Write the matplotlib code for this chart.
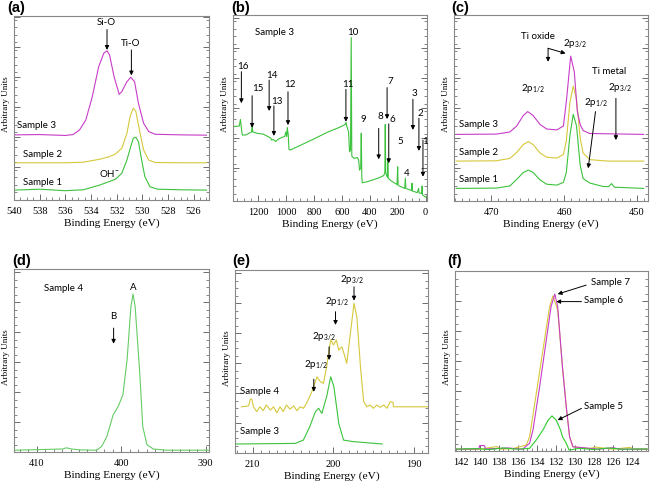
import matplotlib
matplotlib.use('Agg')
import matplotlib.pyplot as plt
from matplotlib.ticker import MultipleLocator

plt.rcParams['font.family'] = 'Liberation Serif'
plt.rcParams['mathtext.fontset'] = 'custom'
plt.rcParams['mathtext.rm'] = 'Lato'
plt.rcParams['mathtext.it'] = 'Lato:italic'

# ---- (a) O 1s ----
a_be1 = [540, 538, 536, 534.6, 533.3, 532.6, 532.1, 531.6, 531.2, 530.9, 530.7, 530.5, 530.3, 530.05, 529.8, 529.4, 528.8, 527, 525]
a_s1 = [0.33, 0.36, 0.31, 0.34, 0.50, 0.61, 0.69, 0.89, 1.33, 1.78, 2.06, 2.09, 1.94, 1.33, 0.78, 0.44, 0.36, 0.34, 0.33]
a_be2 = [540, 538, 536, 534.6, 533.3, 532.6, 532.1, 531.6, 531.2, 530.95, 530.7, 530.5, 530.2, 529.9, 529.5, 529.0, 527, 525]
a_s2 = [1.24, 1.24, 1.24, 1.26, 1.36, 1.44, 1.53, 1.72, 2.22, 2.78, 3.06, 2.95, 2.28, 1.67, 1.33, 1.25, 1.24, 1.24]
a_be3 = [540, 538, 536, 535.4, 534.9, 534.4, 533.9, 533.4, 533.0, 532.75, 532.55, 532.2, 531.8, 531.6, 531.2, 530.9, 530.6, 530.3, 529.9, 529.5, 529.0, 527, 525]
a_s3 = [2.17, 2.18, 2.15, 2.18, 2.33, 2.67, 3.44, 4.44, 4.89, 4.97, 4.83, 4.11, 3.52, 3.61, 3.94, 4.09, 3.94, 3.22, 2.56, 2.28, 2.19, 2.17, 2.16]

# ---- (b) survey, sample 3 ----
b_be = [1380, 1335, 1327, 1318, 1313, 1290, 1260, 1247, 1243, 1238, 1200, 1164, 1130, 1110, 1104, 1090,
        1075, 1060, 1030, 1010, 1001, 995, 991, 984, 979, 970, 900, 800, 700, 620, 576, 570, 565, 552,
        545, 538, 533, 529, 528, 510, 490, 480, 473, 465, 461, 457, 454, 420, 380, 330, 300, 292, 289,
        286, 280, 273, 271, 268, 240, 205, 200, 197, 150, 145, 142, 100, 97, 94, 60, 50, 47, 28, 25, 22, 5, -5]
b_int = [2.48, 2.50, 2.72, 2.35, 2.20, 2.20, 2.27, 2.30, 2.53, 2.30, 2.25, 2.23, 2.15, 2.10, 2.03, 2.05,
         1.98, 2.05, 2.12, 2.15, 2.30, 2.15, 2.45, 2.20, 1.72, 1.70, 1.85, 2.07, 2.30, 2.45, 2.55, 2.62, 2.50, 2.31,
         1.64, 1.70, 5.45, 1.60, 1.48, 1.42, 1.45, 1.37, 1.03, 1.10, 2.26, 0.80, 0.61, 0.64, 0.70, 0.78, 0.85, 0.95, 2.55,
         0.95, 0.85, 0.80, 1.40, 0.75, 0.65, 0.55, 1.14, 0.52, 0.42, 0.76, 0.42, 0.35, 0.59, 0.33, 0.28, 0.42, 0.27, 0.25, 0.50, 0.20, 0.15, 0.12]
b_labels = ['16', '15', '14', '13', '12', '11', '10', '9', '8', '7', '6', '5', '4', '3', '2', '1']
b_label_x = [1308, 1204, 1104, 1068, 972, 559, 520, 444, 324, 256, 240, 180, 132, 79, 36, 5]
b_label_y = [4.48, 3.76, 4.20, 3.33, 3.90, 3.87, 5.62, 2.73, 2.81, 3.98, 2.72, 1.98, 0.92, 3.59, 2.92, 1.98]
# arrows: x, y start, y end
b_arr_x = [1320, 1243, 1121, 1087, 986, 571, 336, 276, 264, 91, 48, 19]
b_arr_y0 = [4.31, 3.51, 4.03, 3.17, 3.64, 3.72, 2.42, 3.78, 2.57, 3.39, 2.76, 2.03]
b_arr_y1 = [3.26, 2.44, 3.00, 2.17, 2.53, 2.64, 1.39, 2.73, 1.26, 2.37, 1.67, 0.81]

# ---- (c) Ti 2p ----
c_be = [474.8, 469.3, 467.45, 466.5, 465.6, 464.9, 464.25, 463.3, 462.4, 461.0, 460.1, 459.7, 459.2, 458.75,
        458.3, 457.8, 457.4, 456.5, 454.6, 453.9, 453.5, 453.1, 449.1]
c_s1 = [0.42, 0.43, 0.50, 0.72, 0.95, 1.03, 0.95, 0.70, 0.56, 0.53, 0.62, 0.95, 2.20, 2.89,
        2.50, 1.20, 0.75, 0.60, 0.48, 0.48, 0.58, 0.46, 0.42]
c_s2 = [1.33, 1.34, 1.42, 1.62, 1.88, 1.98, 1.88, 1.60, 1.46, 1.43, 1.55, 2.00, 3.30, 3.83,
        3.40, 2.10, 1.60, 1.38, 1.34, 1.33, 1.33, 1.33, 1.33]
c_be3 = [474.8, 469.3, 467.45, 466.5, 465.6, 465.0, 464.25, 463.3, 462.4, 461.0, 460.1, 459.7, 459.1, 458.6,
         458.2, 457.8, 457.4, 456.5, 449.1]
c_s3 = [2.22, 2.23, 2.30, 2.50, 2.85, 2.98, 2.85, 2.55, 2.40, 2.37, 2.50, 3.30, 4.83, 4.30,
        3.00, 2.55, 2.35, 2.25, 2.22]

# ---- (d) N 1s, sample 4 ----
d_be = [412.6, 406.9, 406.5, 405.9, 404.9, 402.9, 402.3, 401.7, 400.95, 400.35, 399.8, 399.3, 398.85, 398.6,
        398.35, 397.8, 397.45, 396.95, 396.2, 394.6, 389.6]
d_int = [0.06, 0.10, 0.14, 0.10, 0.07, 0.06, 0.19, 0.52, 1.24, 1.52, 1.91, 3.08, 4.85, 5.27,
         4.85, 2.63, 0.85, 0.24, 0.10, 0.06, 0.06]

# ---- (e) Cl 2p ----
e_be3 = [212.0, 204.7, 203.7, 202.9, 202.2, 201.8, 201.4, 200.8, 200.3, 199.9, 199.3, 198.7, 197.5, 193.9]
e_s3 = [0.30, 0.32, 0.43, 0.88, 1.38, 1.49, 1.32, 1.88, 2.54, 2.21, 0.99, 0.43, 0.38, 0.30]
e_be4 = [211.4, 210.5, 210.3, 210.1, 209.9, 209.5, 209.1, 208.7, 208.3, 207.8, 207.4, 207.0, 206.6, 206.2,
         205.8, 205.35, 204.9, 204.5, 204.1, 203.7, 203.3, 202.65, 202.0, 201.6, 201.2, 200.8, 200.5, 200.3,
         199.95, 199.6, 199.3, 198.9, 198.6, 198.3, 197.9, 197.4, 197.05, 196.6, 196.2, 195.8, 195.4, 195.0,
         194.55, 194.15, 193.7, 193.3, 192.9, 192.55, 192.5, 188.1]
e_s4 = [1.54, 1.57, 1.79, 1.79, 1.54, 1.38, 1.54, 1.41, 1.60, 1.43, 1.54, 1.34, 1.54, 1.38,
        1.60, 1.46, 1.57, 1.41, 1.54, 1.49, 1.66, 2.04, 2.54, 2.38, 2.32, 2.88, 3.43, 3.77,
        3.60, 3.77, 3.43, 3.54, 3.27, 2.99, 3.88, 4.99, 4.54, 2.88, 1.71, 1.54, 1.60, 1.49,
        1.60, 1.52, 1.60, 1.49, 1.71, 1.69, 1.54, 1.54]

# ---- (f) P 2p ----
f_be5 = [142.6, 140.5, 139.0, 137.5, 136.0, 134.75, 134.05, 133.35, 132.8, 132.4, 131.95, 131.5, 131.3, 130.9,
         130.6, 129.5, 128.0, 126.5, 125.0, 122.4]
f_s5 = [0.06, 0.08, 0.05, 0.10, 0.06, 0.09, 0.37, 0.70, 1.03, 1.17, 1.03, 0.70, 0.48, 0.26,
        0.03, 0.09, 0.05, 0.10, 0.06, 0.07]
f_be6 = [142.6, 140.0, 138.2, 137.8, 136.5, 135.1, 134.75, 134.05, 133.35, 132.65, 132.3, 131.8, 131.3, 130.9,
         130.55, 130.2, 128.5, 127.8, 126.0, 124.2, 123.8, 122.4]
f_s6 = [0.06, 0.06, 0.15, 0.06, 0.08, 0.20, 0.48, 1.92, 3.37, 4.81, 5.17, 4.70, 2.81, 1.48,
        0.48, 0.14, 0.08, 0.13, 0.06, 0.12, 0.06, 0.06]
f_be7 = [142.6, 140.1, 140.0, 139.5, 139.4, 137.0, 135.5, 134.75, 134.4, 133.7, 133.0, 132.5, 132.1, 131.8,
         131.3, 130.9, 130.55, 130.2, 128.8, 127.5, 126.0, 125.2, 122.4]
f_s7 = [0.06, 0.07, 0.18, 0.18, 0.07, 0.10, 0.06, 0.26, 0.70, 2.14, 3.70, 4.81, 5.23, 4.81,
        2.81, 1.48, 0.48, 0.14, 0.10, 0.06, 0.11, 0.06, 0.06]

green = '#3cc23c'
yellow = '#d6c83c'
magenta = '#c83cc8'
ann_font = 'Lato'


def style(ax, xlim, ylim, xmaj, xmin, ymaj_start):
    ax.set_xlim(*xlim)
    ax.set_ylim(*ylim)
    ax.xaxis.set_major_locator(MultipleLocator(xmaj))
    ax.xaxis.set_minor_locator(MultipleLocator(xmin))
    ax.set_yticks([ymaj_start + k for k in range(7) if ymaj_start + k < ylim[1]])
    ax.yaxis.set_minor_locator(MultipleLocator(0.25))
    ax.tick_params(which='both', direction='in', top=False, right=True, labelleft=False,
                   color='#555555', labelsize=7.5, pad=5)
    ax.tick_params(which='major', length=4, width=0.6)
    ax.tick_params(which='minor', length=2, width=0.5)
    for s in ax.spines.values():
        s.set_color('#888888')
        s.set_linewidth(0.8)
    ax.set_xlabel('Binding Energy (eV)', fontsize=8.2, labelpad=1.5)
    ax.set_ylabel('Arbitrary Units', fontsize=6.5)
    ax.yaxis.set_label_coords(-0.022, 0.52)


def txt(ax, x, y, s, ha='center', size=7):
    ax.text(x, y, s, ha=ha, va='center', fontsize=size, family=ann_font)


def arrow(ax, x0, y0, x1, y1):
    ax.annotate('', xy=(x1, y1), xytext=(x0, y0),
                arrowprops=dict(arrowstyle='-|>', color='k', lw=0.7, mutation_scale=6,
                                shrinkA=0, shrinkB=0))


W, H = 650, 487
fig = plt.figure(figsize=(6.5, 4.87), dpi=100)


def box(l, t, r, b):
    return [l / W, 1 - b / H, (r - l) / W, (b - t) / H]


axa = fig.add_axes(box(14, 16, 209, 200))
axb = fig.add_axes(box(233, 15, 427, 201))
axc = fig.add_axes(box(454, 15, 648, 201))
axd = fig.add_axes(box(14, 269, 209, 452))
axe = fig.add_axes(box(235, 270, 428, 453))
axf = fig.add_axes(box(455, 271, 648, 451))

# (a)
axa.plot(a_be1, a_s1, color=green, lw=0.8)
axa.plot(a_be2, a_s2, color=yellow, lw=0.8)
axa.plot(a_be3, a_s3, color=magenta, lw=0.8)
style(axa, (540, 524.8), (0, 6.13), 2, 0.5, 1.1)
txt(axa, 539.8, 2.47, 'Sample 3', ha='left')
txt(axa, 539.3, 1.53, 'Sample 2', ha='left')
txt(axa, 539.3, 0.58, 'Sample 1', ha='left')
txt(axa, 532.6, 0.89, 'OH$^{-}$')
txt(axa, 532.8, 5.9, 'Si-O')
arrow(axa, 532.75, 5.68, 532.75, 5.0)
txt(axa, 530.9, 5.22, 'Ti-O')
arrow(axa, 530.85, 5.0, 530.85, 4.15)

# (b)
axb.plot(b_be, b_int, color=green, lw=0.8)
style(axb, (1380, -10), (0, 6.2), 200, 50, 1.1)
txt(axb, 1225, 5.63, 'Sample 3', ha='left')
for lab, x, y in zip(b_labels, b_label_x, b_label_y):
    txt(axb, x, y, lab)
for x, y0, y1 in zip(b_arr_x, b_arr_y0, b_arr_y1):
    arrow(axb, x, y0, x, y1)

# (c)
axc.plot(c_be, c_s1, color=green, lw=0.8)
axc.plot(c_be, c_s2, color=yellow, lw=0.8)
axc.plot(c_be3, c_s3, color=magenta, lw=0.8)
style(axc, (475.1, 448.5), (0, 6.2), 10, 1, 1.1)
txt(axc, 474.4, 2.55, 'Sample 3', ha='left')
txt(axc, 474.4, 1.62, 'Sample 2', ha='left')
txt(axc, 474.4, 0.73, 'Sample 1', ha='left')
txt(axc, 463.6, 5.48, 'Ti oxide')
arrow(axc, 462.2, 5.09, 462.2, 4.64)
arrow(axc, 462.2, 5.09, 459.8, 4.92)
txt(axc, 458.5, 5.26, r'2p$_{3/2}$')
txt(axc, 464.3, 3.76, r'2p$_{1/2}$')
txt(axc, 453.8, 4.31, 'Ti metal')
txt(axc, 452.4, 3.79, r'2p$_{3/2}$')
arrow(axc, 452.9, 3.42, 452.9, 2.03)
txt(axc, 455.6, 3.28, r'2p$_{1/2}$')
arrow(axc, 455.7, 2.98, 456.7, 1.09)

# (d)
axd.plot(d_be, d_int, color='#66cc66', lw=0.8)
style(axd, (412.7, 389.6), (0, 6.1), 10, 1, 1)
txt(axd, 409.2, 5.44, 'Sample 4', ha='left')
txt(axd, 398.6, 5.49, 'A')
txt(axd, 401.0, 4.52, 'B')
arrow(axd, 400.9, 4.13, 400.9, 3.61)

# (e)
axe.plot(e_be3, e_s3, color=green, lw=0.8)
axe.plot(e_be4, e_s4, color=yellow, lw=0.8)
style(axe, (212.2, 188.2), (0, 6.1), 10, 1, 1)
txt(axe, 211.6, 2.04, 'Sample 4', ha='left')
txt(axe, 211.6, 0.71, 'Sample 3', ha='left')
txt(axe, 202.1, 2.96, r'2p$_{1/2}$')
arrow(axe, 202.4, 2.46, 202.4, 2.04)
txt(axe, 201.1, 3.88, r'2p$_{3/2}$')
arrow(axe, 200.5, 3.54, 200.5, 3.10)
txt(axe, 199.5, 5.04, r'2p$_{1/2}$')
arrow(axe, 199.7, 4.71, 199.7, 4.27)
txt(axe, 197.7, 5.77, r'2p$_{3/2}$')
arrow(axe, 197.4, 5.54, 197.4, 5.08)

# (f)
axf.plot(f_be6, f_s6, color=yellow, lw=0.8)
axf.plot(f_be7, f_s7, color=magenta, lw=0.8)
axf.plot(f_be5, f_s5, color='#2ecc2e', lw=0.8)
style(axf, (142.6, 122.3), (0, 6.0), 2, 0.5, 1)
txt(axf, 128.3, 5.61, 'Sample 7', ha='left')
arrow(axf, 128.8, 5.53, 131.8, 5.23)
txt(axf, 129.0, 5.01, 'Sample 6', ha='left')
arrow(axf, 129.3, 4.98, 131.95, 4.98)
txt(axf, 129.0, 1.48, 'Sample 5', ha='left')
arrow(axf, 129.3, 1.42, 131.8, 1.03)

# panel letters
for lab, x, y in [('(a)', 7, 1), ('(b)', 231, 1), ('(c)', 451, 1),
                  ('(d)', 12, 254), ('(e)', 232, 254), ('(f)', 447, 254)]:
    fig.text(x / W, 1 - y / H, lab, ha='left', va='top', fontsize=10.5,
             fontweight='bold', family='Liberation Sans')

fig.savefig('out.png', dpi=100)
